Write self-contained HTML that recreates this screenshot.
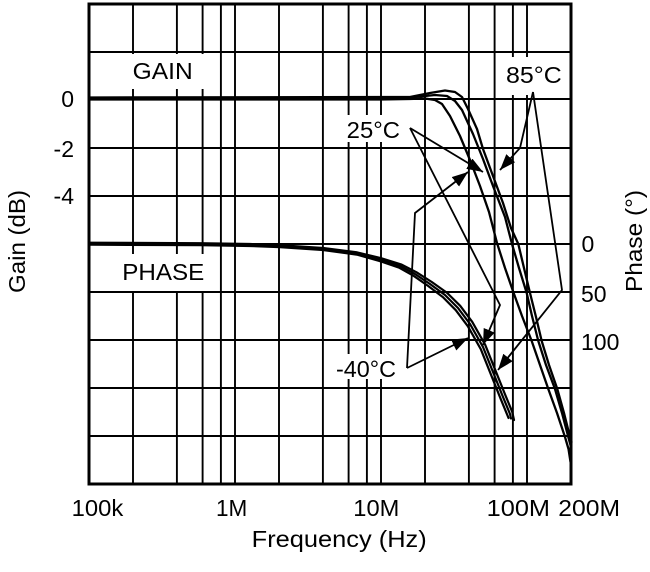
<!DOCTYPE html>
<html><head><meta charset="utf-8">
<style>
html,body{margin:0;padding:0;background:#fff;}
svg{display:block;}
text{font-family:"Liberation Sans",Arial,sans-serif;fill:#000;}
</style></head>
<body>
<svg width="650" height="572" viewBox="0 0 650 572" xmlns="http://www.w3.org/2000/svg">
<defs>
<marker id="ah" markerUnits="userSpaceOnUse" markerWidth="16" markerHeight="12" refX="16" refY="6" orient="auto">
<path d="M0,0 L16,6 L0,12 z" fill="#000"/>
</marker>
</defs>
<rect x="0" y="0" width="650" height="572" fill="#fff"/>
<!-- grid -->
<g stroke="#000" stroke-width="1.9" fill="none">
<line x1="133" y1="4" x2="133" y2="484"/>
<line x1="176.9" y1="4" x2="176.9" y2="484"/>
<line x1="202.6" y1="4" x2="202.6" y2="484"/>
<line x1="220.9" y1="4" x2="220.9" y2="484"/>
<line x1="235" y1="4" x2="235" y2="484"/>
<line x1="279" y1="4" x2="279" y2="484"/>
<line x1="322.9" y1="4" x2="322.9" y2="484"/>
<line x1="348.6" y1="4" x2="348.6" y2="484"/>
<line x1="366.9" y1="4" x2="366.9" y2="484"/>
<line x1="381" y1="4" x2="381" y2="484"/>
<line x1="425" y1="4" x2="425" y2="484"/>
<line x1="468.9" y1="4" x2="468.9" y2="484"/>
<line x1="494.6" y1="4" x2="494.6" y2="484"/>
<line x1="512.9" y1="4" x2="512.9" y2="484"/>
<line x1="527" y1="4" x2="527" y2="484"/>
<line x1="89" y1="52" x2="571" y2="52"/>
<line x1="89" y1="99" x2="571" y2="99"/>
<line x1="89" y1="148" x2="571" y2="148"/>
<line x1="89" y1="196" x2="571" y2="196"/>
<line x1="89" y1="244" x2="571" y2="244"/>
<line x1="89" y1="292" x2="571" y2="292"/>
<line x1="89" y1="340" x2="571" y2="340"/>
<line x1="89" y1="388" x2="571" y2="388"/>
<line x1="89" y1="436" x2="571" y2="436"/>
</g>
<!-- label boxes -->
<g fill="#fff">
<rect x="121" y="54" width="86" height="35"/>
<rect x="115" y="254" width="93" height="37"/>
<rect x="342" y="115" width="62" height="27"/>
<rect x="503" y="57" width="62" height="38"/>
<rect x="331" y="354" width="72" height="25"/>
</g>
<rect x="89" y="4" width="482" height="480" fill="none" stroke="#000" stroke-width="3"/>

<!-- gain curves -->
<g fill="none" stroke="#000" stroke-width="2.3" stroke-linejoin="round" stroke-linecap="round">
<polyline points="89,99.5 380,99.5 410,99 425,98.5 435,100 442,104 450,116 460,136 470,160 480,186 489,212 497,243 505,268 513.3,292 522,316 531.7,341 540,365 548.3,389 557,413 565,437 568.5,449 570.5,462"/>
<polyline points="89,98.5 400,98.3 420,96.5 435,95 447,96 455,101 462,110 473,134 483,159 493,186 505,217 512,244 519,268 526.7,293 532,316 538.3,341 546,365 555,389 562,413 568.3,437 571,447"/>
<polyline points="89,97.5 410,97 430,93 445,90.5 455,92 462,97 468,109 477,129 483,149 493,176 503,203 511,228 518.3,244 524,268 530,293 536,317 541.7,341 549,365 557.3,389 564,413 570,437 571.5,442"/>
</g>
<!-- phase curves -->
<g fill="none" stroke="#000" stroke-width="2.2" stroke-linejoin="round" stroke-linecap="round">
<polyline points="89,244.7 200,245.2 250,246 280,247.2 323,250 356.8,254.6 379.3,260.9 398.9,267.6 413.6,275.8 428.2,286 442.9,297.1 455.8,310.2 467.8,326.2 480.8,349.2 492.8,379.2 500.8,399.2 507.8,416.2 508.5,418"/>
<polyline points="89,243.7 200,244.2 250,245 280,246.2 323,249 357,253.5 380,259.5 400,266 415,274 430,284 445,295 458,308 470,324 483,347 495,377 503,397 510,414 511,418.5"/>
<polyline points="89,242.7 200,243.2 250,244 280,245.2 323,248 357.2,252.4 380.7,258.1 401.1,264.4 416.4,272.2 431.8,282 447.1,292.9 460.2,305.8 472.2,321.8 485.2,344.8 497.2,374.8 505.2,394.8 512.2,411.8 514,420"/>
</g>

<!-- leader lines -->
<g fill="none" stroke="#000" stroke-width="1.8" stroke-linejoin="miter">
<polyline points="410,128 483,172" marker-end="url(#ah)"/>
<polyline points="410,128 500,305 483,345" marker-end="url(#ah)"/>
<polyline points="533,92 520,148 500,170" marker-end="url(#ah)"/>
<polyline points="533,92 562,290 498,370" marker-end="url(#ah)"/>
<polyline points="407,368 415,213 468,172" marker-end="url(#ah)"/>
<polyline points="407,368 468,338" marker-end="url(#ah)"/>
</g>

<!-- in-plot labels -->
<g font-size="23">
<text x="132.7" y="79" textLength="60" lengthAdjust="spacingAndGlyphs">GAIN</text>
<text x="122.3" y="280" textLength="82" lengthAdjust="spacingAndGlyphs">PHASE</text>
<text x="346.7" y="138" textLength="53.3" lengthAdjust="spacingAndGlyphs">25°C</text>
<text x="506" y="83" textLength="55.7" lengthAdjust="spacingAndGlyphs">85°C</text>
<text x="336" y="377" textLength="60" lengthAdjust="spacingAndGlyphs">-40°C</text>
</g>

<!-- axis labels -->
<g font-size="23">
<text x="74" y="107" text-anchor="end">0</text>
<text x="74" y="157" text-anchor="end">-2</text>
<text x="74" y="204" text-anchor="end">-4</text>
<text x="581.5" y="252">0</text>
<text x="581" y="302">50</text>
<text x="581" y="350">100</text>
<text x="71.7" y="516" textLength="51.6" lengthAdjust="spacingAndGlyphs">100k</text>
<text x="216" y="516" textLength="31.3" lengthAdjust="spacingAndGlyphs">1M</text>
<text x="353.3" y="516" textLength="46" lengthAdjust="spacingAndGlyphs">10M</text>
<text x="486.7" y="516" textLength="63.3" lengthAdjust="spacingAndGlyphs">100M</text>
<text x="558.3" y="516" textLength="61.7" lengthAdjust="spacingAndGlyphs">200M</text>
<text x="251.7" y="547" textLength="175" lengthAdjust="spacingAndGlyphs">Frequency (Hz)</text>
<text transform="translate(25,241.5) rotate(-90)" text-anchor="middle" textLength="103" lengthAdjust="spacingAndGlyphs">Gain (dB)</text>
<text transform="translate(642,241) rotate(-90)" text-anchor="middle" textLength="102" lengthAdjust="spacingAndGlyphs">Phase (°)</text>
</g>
</svg>
</body></html>
